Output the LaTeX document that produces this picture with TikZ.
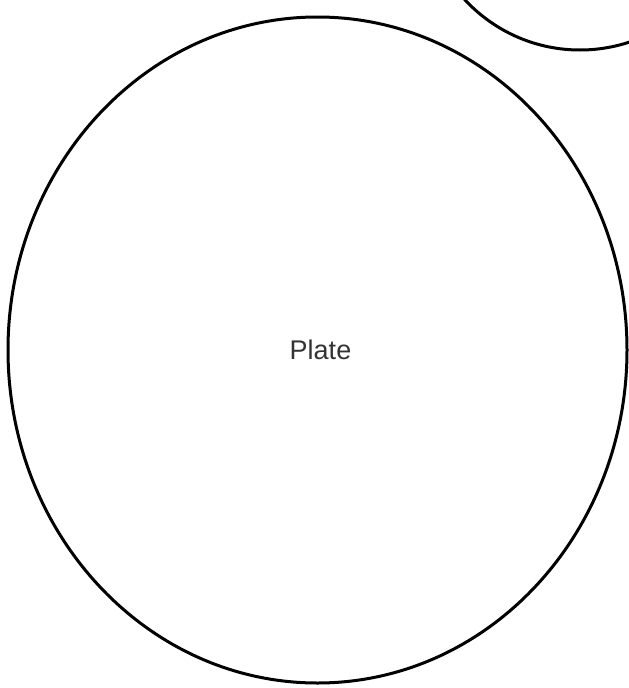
\documentclass[tikz,border=0pt]{standalone}
\usepackage{fontspec}
\setmainfont{Liberation Sans}
\usetikzlibrary{shapes.geometric}

\begin{document}
\begin{tikzpicture}[x=1pt, y=-1pt]
        \tikzset{
            plate/.style={draw, ellipse, line width=3pt, minimum width=619pt, minimum height=666pt, inner sep=0pt, text=black!80, font=\fontsize{27}{32}\selectfont},
            disc/.style={draw, circle, line width=3pt, minimum size=314pt, inner sep=0pt}
        }
        \useasboundingbox (0,0) rectangle (629,688);
        \clip (0,0) rectangle (629,688);

        % Nodes
        \node [plate] (plate) at (317.5,350) {\hspace{6pt}Plate};
        \node [disc] (top) at (580,-107) {};
    \end{tikzpicture}
\end{document}
